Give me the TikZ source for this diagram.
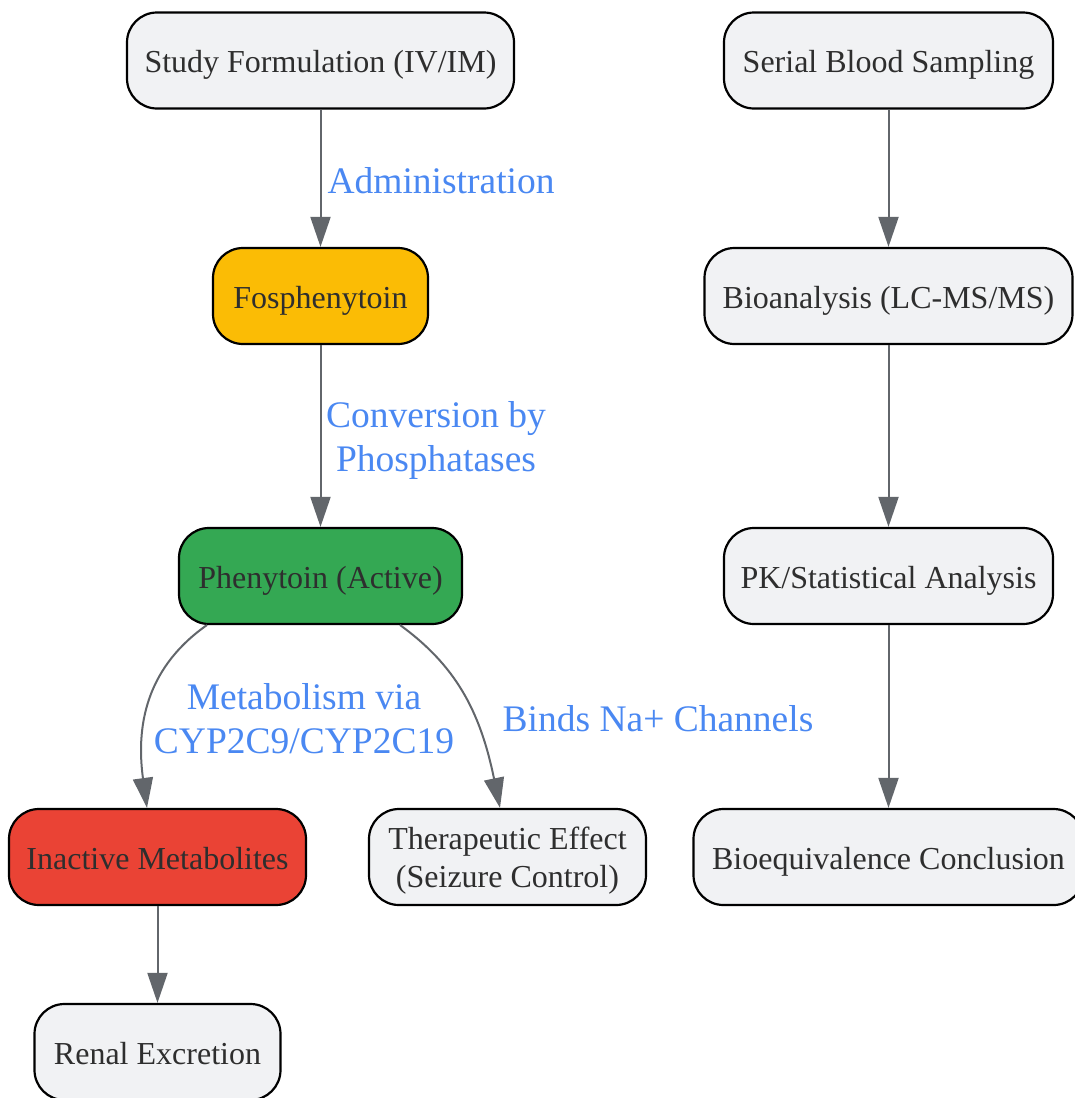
\documentclass[tikz,border=0pt]{standalone}
\usepackage{fontspec}
\setmainfont{Liberation Serif}
\usetikzlibrary{arrows.meta}
\definecolor{boxgray}{HTML}{F1F2F4}
\definecolor{txt}{HTML}{2E2E2E}
\definecolor{lbl}{HTML}{4A88F2}
\definecolor{edge}{HTML}{62666B}
\definecolor{yel}{HTML}{FBBC05}
\definecolor{grn}{HTML}{34A853}
\definecolor{rd}{HTML}{EA4335}
\tikzset{
  box/.style={draw=black, line width=2.2pt, rounded corners=30pt, fill=boxgray,
    minimum height=96pt, inner sep=0pt, text=txt, font=\fontsize{32}{38}\selectfont, align=center},
  one/.style={text height=30pt, text depth=6pt},
  conn/.style={draw=edge, line width=2pt, -{Triangle[length=30pt,width=20pt]}},
  elabel/.style={text=lbl, font=\fontsize{37.5}{44}\selectfont, align=center, inner sep=0pt}
}
\begin{document}
\begin{tikzpicture}[x=1pt,y=-1pt]
\useasboundingbox (0,0) rectangle (1075,1098);
\node[box, one, minimum width=387pt] (study) at (320.5,60.5) {Study Formulation (IV/IM)};
\node[box, one, minimum width=215pt, fill=yel] (fos) at (320.5,296) {Fosphenytoin};
\node[box, one, minimum width=283pt, fill=grn] (phe) at (320.5,576) {Phenytoin (Active)};
\node[box, one, minimum width=297pt, fill=rd] (inact) at (157.5,857) {Inactive Metabolites};
\node[box, minimum width=277pt] (ther) at (507.5,857) {\raisebox{-10pt}[0pt][0pt]{\begin{tabular}{@{}c@{}}Therapeutic Effect\\[-0.3pt](Seizure Control)\end{tabular}}};
\node[box, one, minimum width=246pt] (renal) at (157.5,1052) {Renal Excretion};
\node[box, one, minimum width=329pt] (serial) at (888.5,60.5) {Serial Blood Sampling};
\node[box, one, minimum width=368pt] (bio) at (888.5,296) {Bioanalysis (LC-MS/MS)};
\node[box, one, minimum width=329pt] (pk) at (888.5,576) {PK/Statistical Analysis};
\node[box, one, minimum width=390pt] (beq) at (888.5,857) {Bioequivalence Conclusion};

\draw[conn] (study) -- (fos) node[elabel, pos=0.52, anchor=west, xshift=6pt] {Administration};
\draw[conn] (fos) -- (phe);
\node[elabel] (l2) at (436,440) {Conversion by\\Phosphatases};
\coordinate (pa) at (207,625);
\coordinate (pb) at (400,625);
\draw[conn] (pa) .. controls (150,665) and (135,720) .. (inact.north -| 147,0);
\node[elabel] (l3) at (304,719) {Metabolism via\\CYP2C9/CYP2C19};
\draw[conn] (pb) .. controls (455,665) and (480,710) .. (ther.north -| 500,0);
\node[elabel] (l4) at (658,719) {Binds Na+ Channels};
\draw[conn] (inact) -- (renal);
\draw[conn] (serial) -- (bio);
\draw[conn] (bio) -- (pk);
\draw[conn] (pk) -- (beq);
\end{tikzpicture}
\end{document}
